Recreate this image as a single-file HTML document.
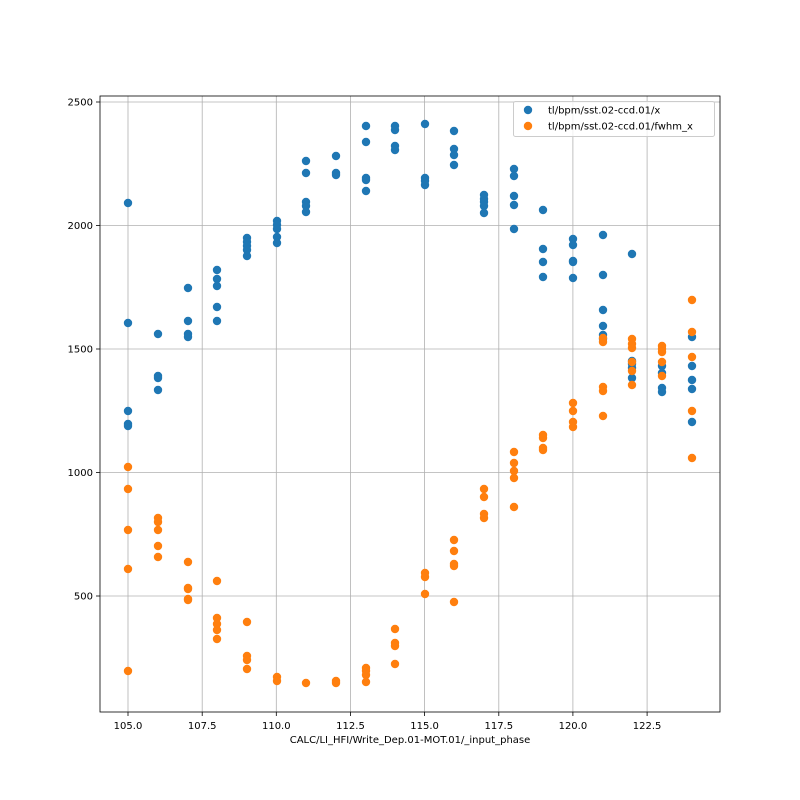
<!DOCTYPE html>
<html><head><style>body{margin:0;background:#fff}svg{display:block;font-family:"DejaVu Sans","Liberation Sans",sans-serif}.b{fill:#1f77b4}.o{fill:#ff7f0e}</style></head><body>
<svg width="800" height="800" viewBox="0 0 800 800" xmlns="http://www.w3.org/2000/svg">
<rect width="800" height="800" fill="#fff"/>
<g stroke="#b0b0b0" stroke-width="0.8">
<line x1="128" y1="96" x2="128" y2="712"/><line x1="202.2" y1="96" x2="202.2" y2="712"/><line x1="276.3" y1="96" x2="276.3" y2="712"/><line x1="350.5" y1="96" x2="350.5" y2="712"/><line x1="424.6" y1="96" x2="424.6" y2="712"/><line x1="498.8" y1="96" x2="498.8" y2="712"/><line x1="572.9" y1="96" x2="572.9" y2="712"/><line x1="647.1" y1="96" x2="647.1" y2="712"/>
<line x1="100" y1="596" x2="720" y2="596"/><line x1="100" y1="472.5" x2="720" y2="472.5"/><line x1="100" y1="349" x2="720" y2="349"/><line x1="100" y1="225.5" x2="720" y2="225.5"/><line x1="100" y1="102" x2="720" y2="102"/>
</g>
<g class="b">
<circle cx="128" cy="203" r="4.2"/><circle cx="128" cy="323" r="4.2"/><circle cx="128" cy="411" r="4.2"/><circle cx="128" cy="424" r="4.2"/><circle cx="128" cy="426" r="4.2"/>
<circle cx="158" cy="334" r="4.2"/><circle cx="158" cy="376" r="4.2"/><circle cx="158" cy="378" r="4.2"/><circle cx="158" cy="390" r="4.2"/>
<circle cx="188" cy="288" r="4.2"/><circle cx="188" cy="321" r="4.2"/><circle cx="188" cy="334" r="4.2"/><circle cx="188" cy="337" r="4.2"/>
<circle cx="217" cy="270" r="4.2"/><circle cx="217" cy="279" r="4.2"/><circle cx="217" cy="286" r="4.2"/><circle cx="217" cy="307" r="4.2"/><circle cx="217" cy="321" r="4.2"/>
<circle cx="247" cy="238" r="4.2"/><circle cx="247" cy="242" r="4.2"/><circle cx="247" cy="246" r="4.2"/><circle cx="247" cy="250" r="4.2"/><circle cx="247" cy="256" r="4.2"/>
<circle cx="277" cy="221" r="4.2"/><circle cx="277" cy="225" r="4.2"/><circle cx="277" cy="229" r="4.2"/><circle cx="277" cy="237" r="4.2"/><circle cx="277" cy="243" r="4.2"/>
<circle cx="306" cy="161" r="4.2"/><circle cx="306" cy="173" r="4.2"/><circle cx="306" cy="202" r="4.2"/><circle cx="306" cy="206" r="4.2"/><circle cx="306" cy="212" r="4.2"/>
<circle cx="336" cy="156" r="4.2"/><circle cx="336" cy="173" r="4.2"/><circle cx="336" cy="175" r="4.2"/>
<circle cx="366" cy="126" r="4.2"/><circle cx="366" cy="142" r="4.2"/><circle cx="366" cy="178" r="4.2"/><circle cx="366" cy="180" r="4.2"/><circle cx="366" cy="191" r="4.2"/>
<circle cx="395" cy="126" r="4.2"/><circle cx="395" cy="130" r="4.2"/><circle cx="395" cy="146" r="4.2"/><circle cx="395" cy="150" r="4.2"/>
<circle cx="425" cy="124" r="4.2"/><circle cx="425" cy="178" r="4.2"/><circle cx="425" cy="181" r="4.2"/><circle cx="425" cy="185" r="4.2"/>
<circle cx="454" cy="131" r="4.2"/><circle cx="454" cy="149" r="4.2"/><circle cx="454" cy="155" r="4.2"/><circle cx="454" cy="165" r="4.2"/>
<circle cx="484" cy="195" r="4.2"/><circle cx="484" cy="199" r="4.2"/><circle cx="484" cy="202" r="4.2"/><circle cx="484" cy="206" r="4.2"/><circle cx="484" cy="213" r="4.2"/>
<circle cx="514" cy="169" r="4.2"/><circle cx="514" cy="176" r="4.2"/><circle cx="514" cy="196" r="4.2"/><circle cx="514" cy="205" r="4.2"/><circle cx="514" cy="229" r="4.2"/>
<circle cx="543" cy="210" r="4.2"/><circle cx="543" cy="249" r="4.2"/><circle cx="543" cy="262" r="4.2"/><circle cx="543" cy="277" r="4.2"/>
<circle cx="573" cy="239" r="4.2"/><circle cx="573" cy="245" r="4.2"/><circle cx="573" cy="261" r="4.2"/><circle cx="573" cy="262" r="4.2"/><circle cx="573" cy="278" r="4.2"/>
<circle cx="603" cy="235" r="4.2"/><circle cx="603" cy="275" r="4.2"/><circle cx="603" cy="310" r="4.2"/><circle cx="603" cy="326" r="4.2"/><circle cx="603" cy="335" r="4.2"/><circle cx="603" cy="339" r="4.2"/>
<circle cx="632" cy="254" r="4.2"/><circle cx="632" cy="361" r="4.2"/><circle cx="632" cy="364" r="4.2"/><circle cx="632" cy="368" r="4.2"/><circle cx="632" cy="378" r="4.2"/>
<circle cx="662" cy="366" r="4.2"/><circle cx="662" cy="373" r="4.2"/><circle cx="662" cy="388" r="4.2"/><circle cx="662" cy="392" r="4.2"/>
<circle cx="692" cy="337" r="4.2"/><circle cx="692" cy="366" r="4.2"/><circle cx="692" cy="380" r="4.2"/><circle cx="692" cy="389" r="4.2"/><circle cx="692" cy="422" r="4.2"/>
</g>
<g class="o">
<circle cx="128" cy="467" r="4.2"/><circle cx="128" cy="489" r="4.2"/><circle cx="128" cy="530" r="4.2"/><circle cx="128" cy="569" r="4.2"/><circle cx="128" cy="671" r="4.2"/>
<circle cx="158" cy="518" r="4.2"/><circle cx="158" cy="522" r="4.2"/><circle cx="158" cy="530" r="4.2"/><circle cx="158" cy="546" r="4.2"/><circle cx="158" cy="557" r="4.2"/>
<circle cx="188" cy="562" r="4.2"/><circle cx="188" cy="588" r="4.2"/><circle cx="188" cy="589" r="4.2"/><circle cx="188" cy="599" r="4.2"/><circle cx="188" cy="600" r="4.2"/>
<circle cx="217" cy="581" r="4.2"/><circle cx="217" cy="618" r="4.2"/><circle cx="217" cy="624" r="4.2"/><circle cx="217" cy="630" r="4.2"/><circle cx="217" cy="639" r="4.2"/>
<circle cx="247" cy="622" r="4.2"/><circle cx="247" cy="656" r="4.2"/><circle cx="247" cy="660" r="4.2"/><circle cx="247" cy="669" r="4.2"/>
<circle cx="277" cy="677" r="4.2"/><circle cx="277" cy="681" r="4.2"/>
<circle cx="306" cy="683" r="4.2"/>
<circle cx="336" cy="681" r="4.2"/><circle cx="336" cy="683" r="4.2"/>
<circle cx="366" cy="668" r="4.2"/><circle cx="366" cy="671" r="4.2"/><circle cx="366" cy="675" r="4.2"/><circle cx="366" cy="682" r="4.2"/>
<circle cx="395" cy="629" r="4.2"/><circle cx="395" cy="643" r="4.2"/><circle cx="395" cy="646" r="4.2"/><circle cx="395" cy="664" r="4.2"/>
<circle cx="425" cy="573" r="4.2"/><circle cx="425" cy="577" r="4.2"/><circle cx="425" cy="594" r="4.2"/>
<circle cx="454" cy="540" r="4.2"/><circle cx="454" cy="551" r="4.2"/><circle cx="454" cy="564" r="4.2"/><circle cx="454" cy="566" r="4.2"/><circle cx="454" cy="602" r="4.2"/>
<circle cx="484" cy="489" r="4.2"/><circle cx="484" cy="497" r="4.2"/><circle cx="484" cy="514" r="4.2"/><circle cx="484" cy="518" r="4.2"/>
<circle cx="514" cy="452" r="4.2"/><circle cx="514" cy="463" r="4.2"/><circle cx="514" cy="471" r="4.2"/><circle cx="514" cy="478" r="4.2"/><circle cx="514" cy="507" r="4.2"/>
<circle cx="543" cy="435" r="4.2"/><circle cx="543" cy="438" r="4.2"/><circle cx="543" cy="448" r="4.2"/><circle cx="543" cy="450" r="4.2"/>
<circle cx="573" cy="403" r="4.2"/><circle cx="573" cy="411" r="4.2"/><circle cx="573" cy="422" r="4.2"/><circle cx="573" cy="427" r="4.2"/>
<circle cx="603" cy="338" r="4.2"/><circle cx="603" cy="342" r="4.2"/><circle cx="603" cy="387" r="4.2"/><circle cx="603" cy="391" r="4.2"/><circle cx="603" cy="416" r="4.2"/>
<circle cx="632" cy="339" r="4.2"/><circle cx="632" cy="344" r="4.2"/><circle cx="632" cy="348" r="4.2"/><circle cx="632" cy="362" r="4.2"/><circle cx="632" cy="371" r="4.2"/><circle cx="632" cy="385" r="4.2"/>
<circle cx="662" cy="346" r="4.2"/><circle cx="662" cy="349" r="4.2"/><circle cx="662" cy="352" r="4.2"/><circle cx="662" cy="362" r="4.2"/><circle cx="662" cy="376" r="4.2"/>
<circle cx="692" cy="300" r="4.2"/><circle cx="692" cy="332" r="4.2"/><circle cx="692" cy="357" r="4.2"/><circle cx="692" cy="411" r="4.2"/><circle cx="692" cy="458" r="4.2"/>
</g>
<rect x="100" y="96" width="620" height="616" fill="none" stroke="#000" stroke-width="0.8"/>
<g stroke="#000" stroke-width="0.8">
<line x1="128" y1="712" x2="128" y2="716"/><line x1="202.2" y1="712" x2="202.2" y2="716"/><line x1="276.3" y1="712" x2="276.3" y2="716"/><line x1="350.5" y1="712" x2="350.5" y2="716"/><line x1="424.6" y1="712" x2="424.6" y2="716"/><line x1="498.8" y1="712" x2="498.8" y2="716"/><line x1="572.9" y1="712" x2="572.9" y2="716"/><line x1="647.1" y1="712" x2="647.1" y2="716"/>
<line x1="96" y1="596" x2="100" y2="596"/><line x1="96" y1="472.5" x2="100" y2="472.5"/><line x1="96" y1="349" x2="100" y2="349"/><line x1="96" y1="225.5" x2="100" y2="225.5"/><line x1="96" y1="102" x2="100" y2="102"/>
</g>
<g font-size="10" fill="#000" text-anchor="middle">
<text x="128" y="729">105.0</text><text x="202.2" y="729">107.5</text><text x="276.3" y="729">110.0</text><text x="350.5" y="729">112.5</text><text x="424.6" y="729">115.0</text><text x="498.8" y="729">117.5</text><text x="572.9" y="729">120.0</text><text x="647.1" y="729">122.5</text>
<text x="410" y="743">CALC/LI_HFI/Write_Dep.01-MOT.01/_input_phase</text>
</g>
<g font-size="10" fill="#000" text-anchor="end">
<text x="93" y="599.5">500</text><text x="93" y="476">1000</text><text x="93" y="352.5">1500</text><text x="93" y="229">2000</text><text x="93" y="105.5">2500</text>
</g>
<rect x="513.5" y="101.5" width="201" height="35" fill="#fff" fill-opacity="0.8" stroke="#ccc" rx="2"/>
<circle cx="528" cy="110" r="4.2" class="b"/><circle cx="528" cy="126" r="4.2" class="o"/>
<text x="548" y="113.5" font-size="10">tl/bpm/sst.02-ccd.01/x</text>
<text x="548" y="129.5" font-size="10">tl/bpm/sst.02-ccd.01/fwhm_x</text>
</svg>
</body></html>
